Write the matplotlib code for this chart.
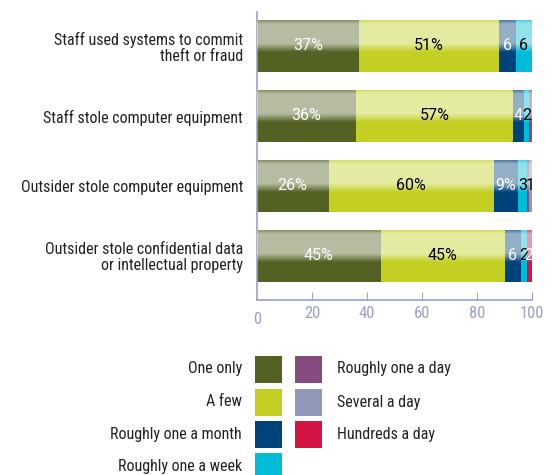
import numpy as np
import matplotlib
matplotlib.use("Agg")
import matplotlib.pyplot as plt
from matplotlib.patches import Rectangle

plt.rcParams['font.family'] = ['Roboto Condensed', 'Archivo Narrow', 'DejaVu Sans']

# Data
questions = ["Staff used systems to commit\ntheft or fraud",
             "Staff stole computer equipment",
             "Outsider stole computer equipment",
             "Outsider stole confidential data\nor intellectual property"]
categories = ["One only", "A few", "Roughly one a month", "Roughly one a week",
              "Roughly one a day", "Several a day", "Hundreds a day"]
one_only = [37, 36, 26, 45]
a_few = [51, 57, 60, 45]
per_month = [6, 4, 9, 6]
per_week = [6, 2, 3, 2]
per_day = [0, 1, 1, 0]
several_day = [0, 0, 1, 0]
hundreds_day = [0, 0, 0, 2]
seg_labels = [["37%", "51%", "6", "6", "", "", ""],
              ["36%", "57%", "4", "2", "", "", ""],
              ["26%", "60%", "9%", "3", "", "1", ""],
              ["45%", "45%", "6", "2", "", "", "2"]]
xticks = [20, 40, 60, 80, 100]

colors = ["#536222", "#c3cf22", "#00437b", "#00bcd9", "#844b7e", "#8f98b8", "#d41443"]
text_colors = ["white", "black", "white", "black", "white", "black", "white"]
axis_col = "#98a2c4"
label_font = ['Roboto', 'DejaVu Sans']

series = [one_only, a_few, per_month, per_week, per_day, several_day, hundreds_day]

fig = plt.figure(figsize=(5.53, 4.75), dpi=100)
ax = fig.add_axes([257/553, (475-300)/475, 275/553, 288/475])

h = 52/70.
y = np.arange(len(questions))
left = np.zeros(len(questions))
for vals, c, tc, k in zip(series, colors, text_colors, range(len(series))):
    vals = np.array(vals, dtype=float)
    ax.barh(y, vals, left=left, height=h, color=c, linewidth=0, zorder=2)
    for i in range(len(questions)):
        lab = seg_labels[i][k]
        if lab and vals[i] > 0:
            ax.text(left[i] + vals[i]/2., y[i], lab, ha='center', va='center',
                    color=tc, fontsize=11.5, family=label_font, zorder=5)
    left += vals

# glossy highlight over the top of each bar
prof = np.linspace(0, 1, 100)
alpha = np.interp(prof, [0, 0.07, 0.45, 0.62, 1.0], [0.3, 0.58, 0.58, 0.0, 0.0])
grad = np.ones((100, 2, 4))
grad[:, :, 3] = alpha[:, None]
for i in range(len(questions)):
    ax.imshow(grad, extent=(0, left[i], y[i] + h/2, y[i] - h/2), aspect='auto',
              interpolation='bilinear', zorder=3)

ax.set_xlim(0, 100)
ax.set_ylim(3 + 44/70., -34/70.)
ax.set_yticks(y)
ax.set_yticklabels(questions, fontsize=11.5, color="#222222", linespacing=1.05)
ax.tick_params(axis='y', length=0, pad=10)
ax.set_xticks(xticks)
ax.set_xticklabels([str(t) for t in xticks], fontsize=12, color=axis_col)
ax.tick_params(axis='x', direction='in', length=6, color=axis_col, pad=4)
ax.text(0, -0.043, "0", transform=ax.get_xaxis_transform(), ha='center', va='top',
        fontsize=12, color=axis_col)
for s in ['top', 'right']:
    ax.spines[s].set_visible(False)
for s in ['left', 'bottom']:
    ax.spines[s].set_color(axis_col)
    ax.spines[s].set_linewidth(1.2)

# legend
col_x = [255, 295]
row_y = [369, 402, 434, 466]
for k, (cat, c) in enumerate(zip(categories, colors)):
    col = 0 if k < 4 else 1
    row = k if k < 4 else k - 4
    sx = col_x[col]
    sy = row_y[row]
    fig.patches.append(Rectangle((sx/553., (475 - sy - 13.5)/475.), 27/553., 27/475.,
                                 transform=fig.transFigure, color=c, linewidth=0))
    if col == 0:
        fig.text((sx - 13)/553., (475 - sy)/475., cat, ha='right', va='center',
                 fontsize=11.5, color="#222222")
    else:
        fig.text((sx + 42)/553., (475 - sy)/475., cat, ha='left', va='center',
                 fontsize=11.5, color="#222222")

fig.savefig("out.png", dpi=100)
